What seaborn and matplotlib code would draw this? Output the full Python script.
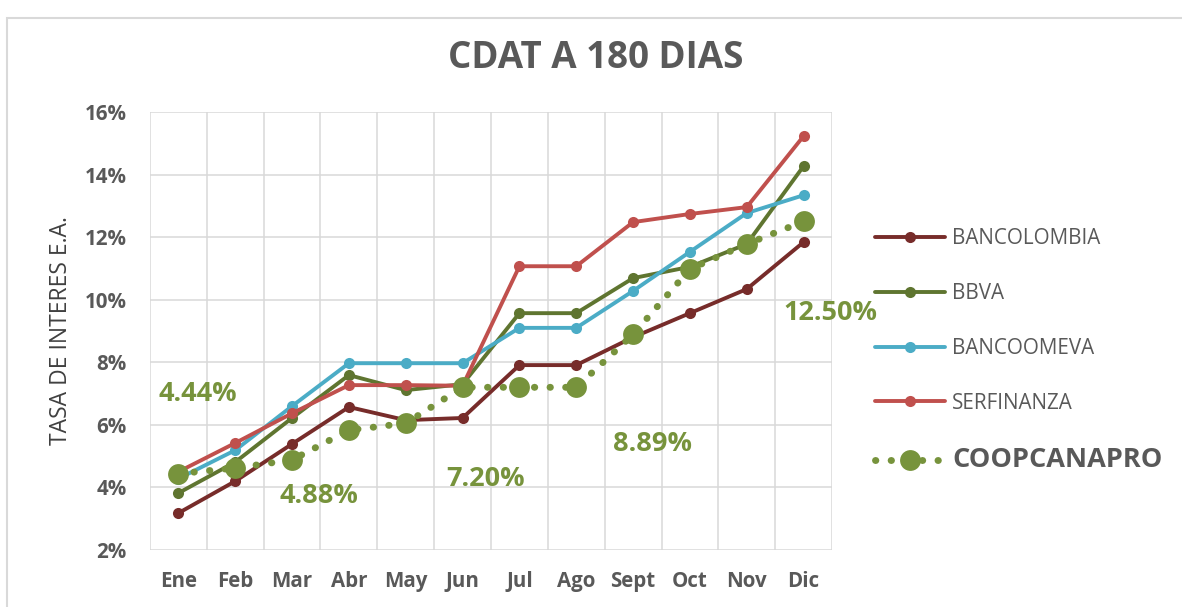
import pandas as pd
import numpy as np
import matplotlib
matplotlib.use('Agg')
import matplotlib.pyplot as plt
import seaborn as sns
from matplotlib.patches import Rectangle

# datos
meses = ['Ene', 'Feb', 'Mar', 'Abr', 'May', 'Jun', 'Jul', 'Ago', 'Sept', 'Oct', 'Nov', 'Dic']
bancolombia = [3.18, 4.20, 5.39, 6.57, 6.15, 6.22, 7.91, 7.91, 8.80, 9.57, 10.34, 11.84]
bbva = [3.82, 4.81, 6.22, 7.59, 7.11, 7.30, 9.57, 9.57, 10.69, 11.05, 11.78, 14.27]
bancoomeva = [4.28, 5.19, 6.60, 7.97, 7.97, 7.97, 9.10, 9.10, 10.28, 11.53, 12.77, 13.34]
serfinanza = [4.50, 5.42, 6.37, 7.27, 7.27, 7.25, 11.07, 11.07, 12.48, 12.74, 12.96, 15.23]
coopcanapro = [4.44, 4.62, 4.88, 5.83, 6.05, 7.20, 7.20, 7.20, 8.89, 10.98, 11.78, 12.50]
etiquetas_idx = [0, 2, 5, 8, 11]

df = pd.DataFrame({'Mes': meses, 'BANCOLOMBIA': bancolombia, 'BBVA': bbva,
                   'BANCOOMEVA': bancoomeva, 'SERFINANZA': serfinanza,
                   'COOPCANAPRO': coopcanapro})

sns.set_style('white')
plt.rcParams['font.family'] = ['Open Sans', 'DejaVu Sans']

fig = plt.figure(figsize=(11.82, 6.07), dpi=100)
ax = fig.add_axes([0.1269, 0.0939, 0.577, 0.7216])

bancos = [('BANCOLOMBIA', '#772C2A'), ('BBVA', '#5F7530'),
          ('BANCOOMEVA', '#4BACC6'), ('SERFINANZA', '#C0504D')]
for nombre, color in bancos:
    sns.lineplot(data=df, x='Mes', y=nombre, ax=ax, color=color, lw=2.8,
                 marker='o', markersize=8, markeredgewidth=0, label=nombre,
                 sort=False)

sns.lineplot(data=df, x='Mes', y='COOPCANAPRO', ax=ax, color='#77933C', lw=5,
             marker='o', markersize=15, markeredgewidth=0, label='COOPCANAPRO',
             sort=False, dashes=False, zorder=5)
coop_line = ax.get_lines()[-1]
coop_line.set_linestyle((0, (0.05, 2.2)))
coop_line.set_dash_capstyle('round')

# etiquetas de datos
offsets = {0: (14, 57), 2: (19, -26), 5: (16.5, -66), 8: (14, -79), 11: (19, -66)}
for i in etiquetas_idx:
    ax.annotate(f'{coopcanapro[i]:.2f}%', (i, coopcanapro[i]), xytext=offsets[i],
                textcoords='offset points', ha='center', va='center',
                fontsize=19.5, fontweight='bold', color='#77933C', zorder=6)

ax.set_ylim(2, 16)
ax.set_xlim(-0.5, 11.5)
ax.set_yticks(np.arange(2, 17, 2))
ax.set_yticklabels([f'{v}%' for v in range(2, 17, 2)])
ax.set_xticks(range(12))
ax.set_xticks(np.arange(-0.5, 12, 1), minor=True)
ax.grid(axis='y', color='#D9D9D9', lw=1.1)
ax.grid(axis='x', which='minor', color='#D9D9D9', lw=1.1)
ax.grid(axis='x', which='major', visible=False)
for s in ax.spines.values():
    s.set_visible(False)
ax.tick_params(axis='both', which='both', length=0)
ax.tick_params(axis='y', pad=17)
ax.tick_params(axis='x', pad=15)
for lab in ax.get_xticklabels() + ax.get_yticklabels():
    lab.set_fontweight('bold')
    lab.set_fontsize(14.8)
    lab.set_color('#595959')
ax.set_xlabel('')
ax.set_ylabel('TASA DE INTERES E.A.', fontsize=16.5, color='#404040', labelpad=8)

fig.text(0.504, 0.905, 'CDAT A 180 DIAS', ha='center', va='center',
         fontsize=26.5, fontweight='bold', color='#595959')

leg = ax.legend(loc='center left', bbox_to_anchor=(0.740, 0.422),
                bbox_transform=fig.transFigure, frameon=False, fontsize=14.9,
                handlelength=3.4, handletextpad=0.35, labelspacing=1.63,
                borderaxespad=0, borderpad=0)
for t in leg.get_texts():
    t.set_color('#595959')
leg.get_texts()[-1].set_fontsize(19.5)
leg.get_texts()[-1].set_fontweight('bold')

fig.patches.append(Rectangle((0.0055, -0.01), 1.0, 0.981, transform=fig.transFigure,
                             fill=False, edgecolor='#D9D9D9', lw=1.5))

fig.savefig('out.png', dpi=100)
